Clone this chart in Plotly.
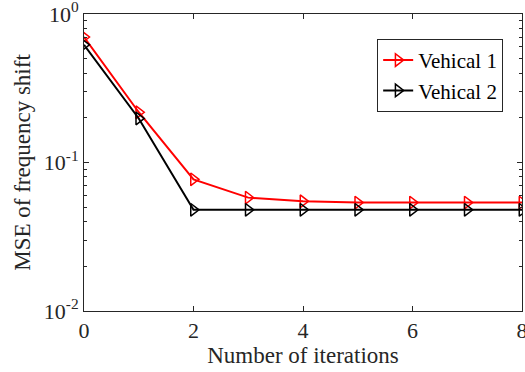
import plotly.graph_objects as go

# Iteration index and frequency-shift MSE for each vehicle
iterations = [0, 1, 2, 3, 4, 5, 6, 7, 8]
mse_vehicle1 = [0.70, 0.218, 0.077, 0.058, 0.0548, 0.0537, 0.0537, 0.0537, 0.0537]
mse_vehicle2 = [0.62, 0.198, 0.048, 0.048, 0.048, 0.048, 0.048, 0.048, 0.048]

x_ticks = [0, 2, 4, 6, 8]
y_ticks = [0.01, 0.1, 1]
y_ticklabels = ["10<sup>-2</sup>", "10<sup>-1</sup>", "10<sup>0</sup>"]
y_minor = [m * 10 ** e for e in (-2, -1) for m in range(2, 10)]

FONT = "Liberation Serif, Times New Roman, serif"

fig = go.Figure()
fig.add_trace(go.Scatter(
    x=iterations, y=mse_vehicle1, name="Vehical 1", mode="lines+markers",
    line=dict(color="#ff0000", width=2),
    marker=dict(symbol="triangle-right-open", size=11, color="#ff0000",
                line=dict(width=1.5, color="#ff0000")),
))
fig.add_trace(go.Scatter(
    x=iterations, y=mse_vehicle2, name="Vehical 2", mode="lines+markers",
    line=dict(color="#000000", width=2),
    marker=dict(symbol="triangle-right-open", size=11, color="#000000",
                line=dict(width=1.5, color="#000000")),
))

axis_common = dict(
    showline=True, linecolor="#262626", linewidth=1, mirror="ticks",
    ticks="inside", ticklen=5, tickcolor="#262626",
    showgrid=False, zeroline=False, ticklabeloverflow="allow", automargin=False,
    tickfont=dict(family=FONT, size=22, color="#262626"),
)

fig.update_layout(
    width=525, height=372,
    margin=dict(l=84, r=3, t=14, b=61),
    paper_bgcolor="white", plot_bgcolor="white",
    font=dict(family=FONT, size=22, color="#262626"),
    xaxis=dict(
        range=[0, 8], tickvals=x_ticks,
        title=dict(text="Number of iterations", font=dict(family=FONT, size=23), standoff=2),
        **axis_common,
    ),
    yaxis=dict(
        type="log", range=[-2, 0], tickvals=y_ticks, ticktext=y_ticklabels,
        minor=dict(tickvals=y_minor, ticks="inside", ticklen=3, tickcolor="#262626", showgrid=False),
        title=dict(text="MSE of frequency shift", font=dict(family=FONT, size=23), standoff=6),
        **axis_common,
    ),
    legend=dict(
        x=0.957, y=0.916, xanchor="right", yanchor="top",
        bgcolor="white", bordercolor="#262626", borderwidth=1,
        font=dict(family=FONT, size=21, color="#000000"),
        tracegroupgap=0, itemwidth=30,
    ),
    showlegend=True,
)

fig.write_html("out.html")
